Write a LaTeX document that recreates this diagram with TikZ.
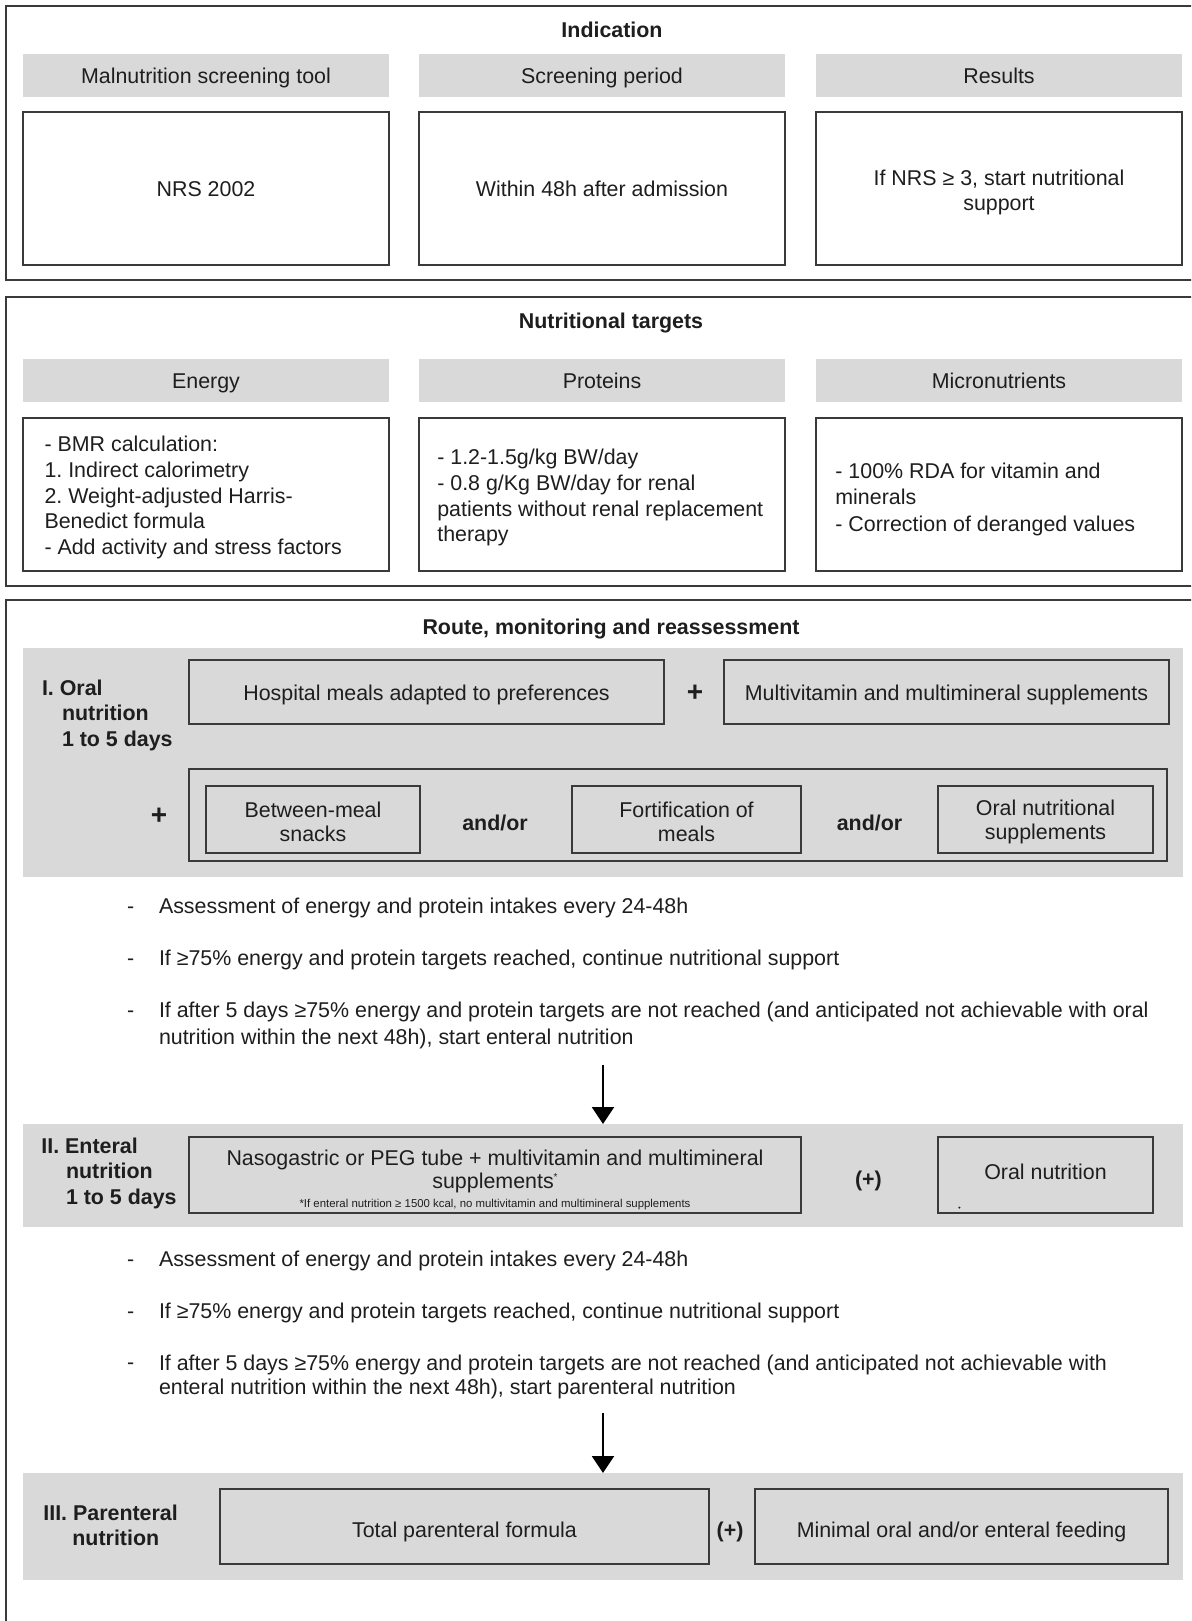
\documentclass[tikz,border=0pt]{standalone}
\usepackage{fontspec}
\setmainfont{Liberation Sans}
\usetikzlibrary{arrows.meta}
\definecolor{hgray}{HTML}{D9D9D9}
\definecolor{bcol}{HTML}{3A3A3A}
\definecolor{tcol}{HTML}{1E1E1E}
\begin{document}
\frenchspacing
\begin{tikzpicture}[x=1pt,y=-1pt,
  every node/.style={inner sep=0pt, outer sep=0pt, text=tcol},
  outerbox/.style={draw=bcol, line width=2pt},
  txt/.style={font=\fontsize{21.4}{25.6}\selectfont, text height=16.5pt, text depth=0pt},
  boldtxt/.style={font=\fontsize{21.4}{25.6}\selectfont\bfseries, text height=16.5pt, text depth=0pt},
  mtxt/.style={font=\fontsize{21.4}{25.6}\selectfont},
  plus/.style={font=\fontsize{28}{30}\selectfont\bfseries, text height=16.5pt, text depth=0pt},
  hdr/.style={txt, fill=hgray, anchor=north west, minimum width=366pt, minimum height=43pt},
  cbox/.style={txt, draw=bcol, line width=1.5pt, fill=white, anchor=north west, minimum width=366pt, minimum height=153pt},
  band/.style={fill=hgray, anchor=north west, minimum width=1160pt},
  gbox/.style={txt, draw=bcol, line width=1.5pt, anchor=north west},
  arr/.style={draw=black, line width=2pt, -{Triangle[width=22pt,length=17pt]}},
]
\useasboundingbox (0,0) rectangle (1191,1621);
\clip (0,0) rectangle (1191,1621);
\fill[white] (0,0) rectangle (1191,1621);

% ---------- Section 1 ----------
\draw[outerbox] (6,6) rectangle (1215,280);
\node[boldtxt] (t1) at (612,29) {Indication};
\node[hdr] (h11) at (23,54) {Malnutrition screening tool};
\node[hdr] (h12) at (419,54) {Screening period};
\node[hdr] (h13) at (816,54) {Results};
\node[cbox] (c11) at (23,112) {NRS 2002};
\node[cbox] (c12) at (419,112) {Within 48h after admission};
\node[cbox] (c13) at (816,112) {};
\node[mtxt, align=center, yshift=-4pt] (c13t) at (c13.center) {If NRS ≥ 3, start nutritional\\support};

% ---------- Section 2 ----------
\draw[outerbox] (6,297) rectangle (1215,586);
\node[boldtxt] (t2) at (611,320.5) {Nutritional targets};
\node[hdr] (h21) at (23,359) {Energy};
\node[hdr] (h22) at (419,359) {Proteins};
\node[hdr] (h23) at (816,359) {Micronutrients};
\node[cbox] (c21) at (23,418) {};
\node[cbox] (c22) at (419,418) {};
\node[cbox] (c23) at (816,418) {};
\node[mtxt, align=left, anchor=west] (c21t) at (44.5,497.5)
  {- BMR calculation:\\1.\ Indirect calorimetry\\2.\ Weight-adjusted Harris-\\Benedict formula\\- Add activity and stress factors};
\node[mtxt, align=left, anchor=west] (c22t) at (437.3,497.8)
  {- 1.2-1.5g/kg BW/day\\- 0.8 g/Kg BW/day for renal\\patients without renal replacement\\therapy};
\node[mtxt, align=left, anchor=west] (c23t) at (835.4,499.5)
  {- 100\% RDA for vitamin and\\minerals\\[1.5pt]- Correction of deranged values};

% ---------- Section 3 ----------
\draw[outerbox] (6,600) rectangle (1215,1640);
\node[boldtxt] (t3) at (611,626.5) {Route, monitoring and reassessment};

% Band I
\node[band, minimum height=229pt] (bandI) at (23,648) {};
\node[boldtxt, anchor=west] (l1a) at (42,687.5) {I. Oral};
\node[boldtxt, anchor=west] (l1b) at (62,712.3) {nutrition};
\node[boldtxt, anchor=west] (l1c) at (62,738) {1 to 5 days};
\node[gbox, minimum width=475pt, minimum height=64pt] (hosp) at (189,660) {Hospital meals adapted to preferences};
\node[plus] (p1) at (695,693.7) {+};
\node[gbox, minimum width=445pt, minimum height=64pt] (multi) at (724,660) {Multivitamin and multimineral supplements};
\node[gbox, minimum width=978pt, minimum height=92pt] (cont) at (189,769) {};
\node[plus] (p2) at (159,816.7) {+};
\node[gbox, minimum width=214pt, minimum height=67pt] (snack) at (206,786) {};
\node[mtxt, align=center, font=\fontsize{21.4}{24}\selectfont, yshift=-2pt] (snackt) at (snack.center) {Between-meal\\snacks};
\node[boldtxt] (ao1) at (495,821.9) {and/or};
\node[gbox, minimum width=229pt, minimum height=67pt] (fort) at (572,786) {};
\node[mtxt, align=center, font=\fontsize{21.4}{24}\selectfont, yshift=-2pt] (fortt) at (fort.center) {Fortification of\\meals};
\node[boldtxt] (ao2) at (869.5,821.9) {and/or};
\node[gbox, minimum width=215pt, minimum height=67pt] (ons) at (938,786) {};
\node[mtxt, align=center, font=\fontsize{21.4}{24}\selectfont, yshift=-2pt] (onst) at (ons.center) {Oral nutritional\\supplements};

% Bullets I
\node[txt, anchor=west] (d11) at (127,905.7) {-};
\node[txt, anchor=west] (b11) at (159,905.7) {Assessment of energy and protein intakes every 24-48h};
\node[txt, anchor=west] (d12) at (127,957.3) {-};
\node[txt, anchor=west] (b12) at (159,957.3) {If ≥75\% energy and protein targets reached, continue nutritional support};
\node[txt, anchor=west] (d13) at (127,1009) {-};
\node[anchor=west, align=left, font=\fontsize{21.4}{26.9}\selectfont] (b13) at (159,1025.5)
  {If after 5 days ≥75\% energy and protein targets are not reached (and anticipated not achievable with oral\\nutrition within the next 48h), start enteral nutrition};

% Band II
\node[band, minimum height=103pt] (bandII) at (23,1124) {};
\coordinate (a1) at (603,1065);
\draw[arr] (a1) -- (bandII.north);
\node[boldtxt, anchor=west] (l2a) at (41.4,1145.5) {II. Enteral};
\node[boldtxt, anchor=west] (l2b) at (66,1170.3) {nutrition};
\node[boldtxt, anchor=west] (l2c) at (66,1196.2) {1 to 5 days};
\node[gbox, minimum width=612pt, minimum height=76pt] (naso) at (189,1137) {};
\node[align=center, font=\fontsize{21.4}{22.6}\selectfont] (nasot) at (495,1171.5)
  {Nasogastric or PEG tube + multivitamin and multimineral\\supplements\raisebox{0.7ex}{\fontsize{10}{10}\selectfont *}};
\node[font=\fontsize{11.4}{13}\selectfont] (nasof) at (495,1204.4) {*If enteral nutrition ≥ 1500 kcal, no multivitamin and multimineral supplements};
\node[boldtxt] (pp1) at (868.4,1178.6) {(+)};
\node[gbox, minimum width=215pt, minimum height=76pt, text height=9.3pt] (oraln) at (938,1137) {Oral nutrition};
\fill[tcol] (959.4,1207.6) circle (1.1pt);

% Bullets II
\node[txt, anchor=west] (d21) at (127,1258.2) {-};
\node[txt, anchor=west] (b21) at (159,1258.2) {Assessment of energy and protein intakes every 24-48h};
\node[txt, anchor=west] (d22) at (127,1309.9) {-};
\node[txt, anchor=west] (b22) at (159,1309.9) {If ≥75\% energy and protein targets reached, continue nutritional support};
\node[txt, anchor=west] (d23) at (127,1361.6) {-};
\node[anchor=west, align=left, font=\fontsize{21.4}{24.8}\selectfont] (b23) at (159,1377)
  {If after 5 days ≥75\% energy and protein targets are not reached (and anticipated not achievable with\\enteral nutrition within the next 48h), start parenteral nutrition};

% Band III
\node[band, minimum height=107pt] (bandIII) at (23,1473) {};
\coordinate (a2) at (603,1413);
\draw[arr] (a2) -- (bandIII.north);
\node[boldtxt, anchor=west] (l3a) at (43.4,1512.5) {III. Parenteral};
\node[boldtxt] (l3b) at (115.8,1537.3) {nutrition};
\node[gbox, minimum width=489pt, minimum height=75pt, text height=22.5pt] (tpf) at (220,1489) {Total parenteral formula};
\node[boldtxt] (pp2) at (730,1529) {(+)};
\node[gbox, minimum width=413pt, minimum height=75pt, text height=22.5pt] (minf) at (755,1489) {Minimal oral and/or enteral feeding};
\end{tikzpicture}
\end{document}
